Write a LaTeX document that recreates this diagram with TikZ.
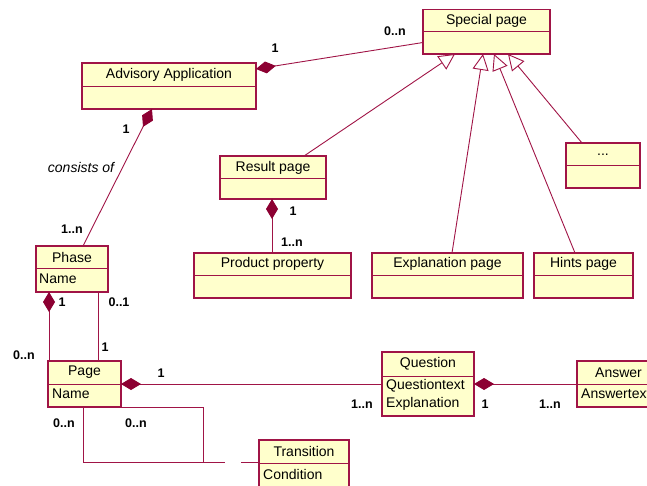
\documentclass[tikz,border=0pt]{standalone}
\usepackage{fontspec}
\setmainfont{Liberation Sans}
\usetikzlibrary{arrows.meta}
\definecolor{umlline}{RGB}{160,20,70}
\definecolor{umlfill}{RGB}{255,255,204}
\definecolor{umldiam}{RGB}{140,0,50}
\newcommand{\umlclass}[7]{%
  \node[classbox, anchor=north west, minimum width={(#4-#2)*1pt}, minimum height={(#6-#3)*1pt}] (#1) at (#2,#3) {};
  \draw[divline] (#2,#5) -- (#4,#5);
  \node[titletxt] (#1-t) at ({(#2+#4)/2},{(#3+#5)/2}) {#7};
}
\tikzset{
  classbox/.style={draw=umlline, fill=umlfill, line width=1.2pt, inner sep=0pt, outer sep=0pt},
  divline/.style={draw=umlline, line width=1pt},
  titletxt/.style={inner sep=0pt, font=\fontsize{14}{16}\selectfont},
  attrtxt/.style={inner sep=0pt, anchor=west, font=\fontsize{14}{16}\selectfont},
  mult/.style={inner sep=0pt, font=\bfseries\fontsize{12.5}{14}\selectfont},
  assoc/.style={draw=umlline, line width=0.9pt},
  comp/.style={assoc, {Diamond[length=20pt, width=12pt, color=umldiam]}-},
  gen/.style={assoc, -{Triangle[open, length=16pt, width=16pt, fill=white]}},
}
\begin{document}
\begin{tikzpicture}[x=1pt, y=-1pt]
\useasboundingbox (0,0) rectangle (647,486);
% classes
\umlclass{sp}{423}{9.5}{550}{32}{54}{Special page}
\umlclass{aa}{82}{63}{256}{87}{109}{Advisory Application}
\umlclass{rp}{220}{156}{326}{179}{199}{Result page}
\umlclass{pp}{194}{253}{351}{275}{298}{Product property}
\umlclass{ep}{372}{253}{523}{275}{298}{Explanation page}
\umlclass{hp}{534}{253}{633}{275}{298}{Hints page}
\umlclass{dt}{566}{143}{640}{166}{188}{...}
\umlclass{ph}{36}{246}{108}{268}{292}{Phase}
\umlclass{pg}{48}{361}{121}{384}{407}{Page}
\umlclass{q}{382}{352}{474}{376}{416}{Question}
\umlclass{ans}{577}{361}{660}{384}{407}{Answer}
\umlclass{tr}{259}{440}{349}{463}{500}{Transition}
% attributes
\node[attrtxt] (ph-a) at (39,279) {Name};
\node[attrtxt] (pg-a) at (52,394) {Name};
\node[attrtxt] (q-a1) at (386,386) {Questiontext};
\node[attrtxt] (q-a2) at (386,404) {Explanation};
\node[attrtxt] (ans-a) at (581,394) {Answertext};
\node[attrtxt] (tr-a) at (263,474) {Condition};
% compositions
\draw[comp] ([yshift=-6pt]aa.north east) -- ([yshift=-33pt]sp.north west);
\draw[comp] ([xshift=70pt]aa.south west) -- ([xshift=47pt]ph.north west);
\draw[comp] ([xshift=52pt]rp.south west) -- ([xshift=78pt]pp.north west);
\draw[comp] ([xshift=13pt]ph.south west) -- ([xshift=1pt]pg.north west);
\draw[assoc] ([xshift=62pt]ph.south west) -- ([xshift=50pt]pg.north west);
\draw[comp] ([yshift=-23pt]pg.north east) -- ([yshift=-32pt]q.north west);
\draw[comp] ([yshift=-32pt]q.north east) -- ([yshift=-23pt]ans.north west);
% generalizations
\draw[gen] ([xshift=84pt]rp.north west) -- ([xshift=32pt]sp.south west);
\draw[gen] ([xshift=80pt]ep.north west) -- ([xshift=60pt]sp.south west);
\draw[gen] ([xshift=41pt]hp.north west) -- ([xshift=71pt]sp.south west);
\draw[gen] ([xshift=16pt]dt.north west) -- ([xshift=85pt]sp.south west);
% self association of Page with association class Transition
\coordinate (loop) at (203,462);
\draw[assoc] ([xshift=35pt]pg.south west) |- (loop) |- (pg.south east);
\draw[assoc, dash pattern=on 22pt off 16pt] (loop) -- (loop -| tr.west);
% multiplicities and labels
\node[mult] (m1) at (275,48) {1};
\node[mult] (m2) at (395,31) {0..n};
\node[mult] (m3) at (126,129) {1};
\node[inner sep=0pt, font=\itshape\fontsize{14}{16}\selectfont] (lc) at (81,167) {consists of};
\node[mult] (m4) at (72,229) {1..n};
\node[mult] (m5) at (293,211) {1};
\node[mult] (m6) at (292,242) {1..n};
\node[mult] (m7) at (62,302) {1};
\node[mult] (m8) at (24,355) {0..n};
\node[mult] (m9) at (119,302) {0..1};
\node[mult] (m10) at (105,347) {1};
\node[mult] (m11) at (161,373) {1};
\node[mult] (m12) at (362,404) {1..n};
\node[mult] (m13) at (485,404) {1};
\node[mult] (m14) at (550,404) {1..n};
\node[mult] (m15) at (64,423) {0..n};
\node[mult] (m16) at (136,423) {0..n};
\end{tikzpicture}
\end{document}
